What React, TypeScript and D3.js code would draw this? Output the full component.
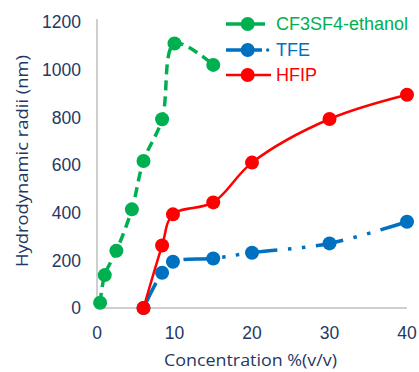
import React from "react";
import * as d3 from "d3";

const xTicks = [0, 10, 20, 30, 40];
const yTicks = [0, 200, 400, 600, 800, 1000, 1200];

const greenX = [0.4, 1, 2.5, 4.5, 6, 8.4, 10, 15];
const greenY = [22, 138, 240, 414, 617, 792, 1110, 1020];

const blueX = [6, 8.4, 9.8, 15, 20, 30, 40];
const blueY = [0, 148, 194, 208, 232, 271, 362];

const redX = [6, 8.4, 9.8, 15, 20, 30, 40];
const redY = [0, 262, 393, 443, 610, 793, 895];

const legendNames = ["CF3SF4-ethanol", "TFE", "HFIP"];

const GREEN = "#00B050";
const BLUE = "#0070C0";
const RED = "#FF0000";
const TEXT = "#1F3864";
const AXIS = "#BFBFBF";

export default function App() {
  const W = 419, H = 372;
  const x = d3.scaleLinear().domain([0, 40]).range([97, 407]);
  const y = d3.scaleLinear().domain([0, 1200]).range([308, 22]);

  const toPts = (xs: number[], ys: number[]) => xs.map((v, i) => [x(v), y(ys[i])] as [number, number]);
  const smooth = d3.line().curve(d3.curveCatmullRom.alpha(0.5));

  const gp = toPts(greenX, greenY);
  const bp = toPts(blueX, blueY);
  const rp = toPts(redX, redY);

  const series = [
    { pts: gp, path: smooth(gp), color: GREEN, width: 3.5, dash: "10,6" },
    { pts: bp, path: smooth(bp), color: BLUE, width: 3.5, dash: "28,10.5,3.5,10.5,3.5,10.5" },
    { pts: rp, path: smooth(rp), color: RED, width: 2.5, dash: undefined },
  ];

  const legendY = [24, 50, 75];
  const legendColors = [GREEN, BLUE, RED];

  return (
    <svg width={W} height={H} style={{ position: "absolute", left: 0, top: 0 }}>
      <rect width={W} height={H} fill="#fff" />
      <line x1={x(0)} x2={x(0)} y1={y(1200) - 3} y2={y(0)} stroke={AXIS} strokeWidth={1.5} />
      <line x1={x(0)} x2={x(40)} y1={y(0)} y2={y(0)} stroke={AXIS} strokeWidth={1.5} />
      {yTicks.map((t) => (
        <text key={t} x={81} y={y(t)} dy="0.36em" textAnchor="end" fontFamily="Liberation Sans, Arial, sans-serif" fontSize={17.5} fill={TEXT}>
          {t}
        </text>
      ))}
      {xTicks.map((t) => (
        <text key={t} x={x(t)} y={338.5} textAnchor="middle" fontFamily="Liberation Sans, Arial, sans-serif" fontSize={17.5} fill={TEXT}>
          {t}
        </text>
      ))}
      <text x={250.5} y={366} textAnchor="middle" fontFamily="Open Sans, sans-serif" fontSize={17} fill={TEXT} textLength={173} lengthAdjust="spacingAndGlyphs">
        Concentration %(v/v)
      </text>
      <text transform="translate(28,161) rotate(-90)" textAnchor="middle" fontFamily="Open Sans, sans-serif" fontSize={17} fill={TEXT} textLength={212} lengthAdjust="spacingAndGlyphs">
        Hydrodynamic radii (nm)
      </text>
      {series.map((s, i) => (
        <g key={i}>
          <path d={s.path || ""} fill="none" stroke={s.color} strokeWidth={s.width} strokeDasharray={s.dash} />
          {s.pts.map((p, j) => (
            <circle key={j} cx={p[0]} cy={p[1]} r={7} fill={s.color} />
          ))}
        </g>
      ))}
      {legendNames.map((n, i) => (
        <g key={n}>
          {i === 1 ? (
            <>
              <line x1={226} x2={262} y1={legendY[i]} y2={legendY[i]} stroke={legendColors[i]} strokeWidth={3.5} />
              <circle cx={267.7} cy={legendY[i]} r={1.7} fill={legendColors[i]} />
            </>
          ) : (
            <line x1={226} x2={i === 0 ? 265 : 271} y1={legendY[i]} y2={legendY[i]} stroke={legendColors[i]} strokeWidth={i === 2 ? 2.5 : 3.5} />
          )}
          <circle cx={247.7} cy={legendY[i]} r={7} fill={legendColors[i]} />
          <text x={276} y={legendY[i]} dy="0.36em" fontFamily="Liberation Sans, Arial, sans-serif" fontSize={18} fill={legendColors[i]}>
            {n}
          </text>
        </g>
      ))}
    </svg>
  );
}
